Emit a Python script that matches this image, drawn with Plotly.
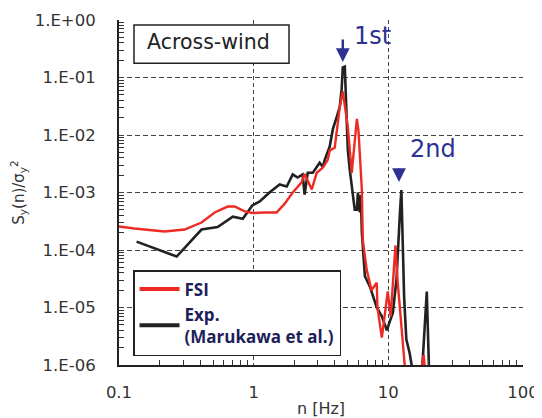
import plotly.graph_objects as go
import numpy as np

# ---- data ----
exp_x = [0.135, 0.268, 0.41, 0.54, 0.70, 0.83, 0.98, 1.11, 1.31, 1.56, 1.76, 1.95, 2.12, 2.31, 2.39,
         2.52, 2.75, 3.09, 3.26, 3.37, 3.67, 3.87, 4.15, 4.36, 4.5, 4.59, 4.75, 4.83, 4.9, 5.0, 5.17,
         5.35, 5.45, 5.63, 5.84, 5.94, 6.14, 6.25, 6.36, 6.7, 7.3, 8.2, 8.95, 9.75, 10.2, 10.8, 11.5,
         11.8, 12.2, 12.5, 12.8, 13.1, 13.6, 14.4, 14.9, 15.5, 17.3, 18.0, 19.3, 20.0, 20.6]
exp_y = [1.4e-4, 7.7e-5, 2.27e-4, 2.5e-4, 3.8e-4, 3.5e-4, 6.0e-4, 7e-4, 1e-3, 1.38e-3, 1.27e-3, 2.06e-3,
         1.82e-3, 2.06e-3, 9.2e-4, 2.2e-3, 2.2e-3, 3.3e-3, 2.8e-3, 3.7e-3, 6.3e-3, 1.25e-2, 2.1e-2, 3.1e-2,
         6.2e-2, 0.15, 0.155, 4.7e-2, 1.6e-2, 5.6e-3, 2.5e-3, 1.27e-3, 8.5e-4, 5e-4, 5e-4, 1e-3, 4.5e-4,
         9e-4, 2e-4, 3.5e-5, 2.3e-5, 1e-5, 7e-6, 4e-6, 5.5e-6, 8e-6, 3.1e-5, 1.15e-4, 4.5e-4, 1.1e-3,
         1.15e-4, 1.5e-5, 2.8e-6, 1.6e-6, 1e-6, 5e-7, 5e-7, 1.2e-6, 1.9e-5, 1e-6, 5e-7]

fsi_x = [0.1, 0.13, 0.218, 0.307, 0.41, 0.513, 0.641, 0.722, 0.857, 0.98, 1.2, 1.48, 1.7, 1.95, 2.27,
         2.39, 2.7, 2.94, 3.26, 3.55, 3.67, 4.0, 4.36, 4.59, 5.0, 5.35, 5.84, 6.0, 6.36, 6.46, 6.9, 7.5,
         8.2, 8.3, 8.95, 9.4, 9.9, 10.4, 11.3, 11.7, 12.6, 13.4, 17.3, 18.3, 18.8]
fsi_y = [2.57e-4, 2.37e-4, 2.1e-4, 2.27e-4, 3.0e-4, 4.5e-4, 5.7e-4, 5.7e-4, 4.7e-4, 4.4e-4, 4.5e-4,
         4.5e-4, 6.4e-4, 1.0e-3, 1.5e-3, 2.1e-3, 1.13e-3, 2.2e-3, 2.7e-3, 3.7e-3, 5.4e-3, 6e-3, 3.1e-2,
         5.7e-2, 1.4e-2, 2.2e-3, 1.9e-2, 1.2e-2, 1.1e-3, 1.5e-4, 4.6e-5, 2e-5, 2.7e-5, 1e-5, 3e-6, 7e-6,
         1.9e-5, 7e-6, 1.2e-4, 3e-5, 4e-6, 7e-7, 7e-7, 1.5e-6, 7e-7]

x_tickvals = [0.1, 1, 10, 100]
x_ticktext = ["0.1", "1", "10", "100"]
y_tickvals = [1e0, 1e-1, 1e-2, 1e-3, 1e-4, 1e-5, 1e-6]
y_ticktext = ["1.E+00", "1.E-01", "1.E-02", "1.E-03", "1.E-04", "1.E-05", "1.E-06"]

x_minor = [m * 10.0 ** e for e in range(-1, 2) for m in range(2, 10)]
y_minor = [m * 10.0 ** e for e in range(-6, 0) for m in range(2, 10)]

NAVY = "#2e3192"
LEGTXT = "#1e1e5a"
RED = "#ee2a24"
BLACK = "#222222"
TXT = "#333333"

fig = go.Figure()
fig.add_trace(go.Scatter(x=exp_x, y=exp_y, mode="lines", showlegend=False,
                         line=dict(color=BLACK, width=2.6)))
fig.add_trace(go.Scatter(x=fsi_x, y=fsi_y, mode="lines", showlegend=False,
                         line=dict(color=RED, width=2.4)))
# legend entries (thicker sample lines, as in the reference)
fig.add_trace(go.Scatter(x=[None], y=[None], mode="lines", name="FSI",
                         line=dict(color=RED, width=4), legendrank=1))
fig.add_trace(go.Scatter(x=[None], y=[None], mode="lines", name="Exp.<br>(Marukawa et al.)",
                         line=dict(color=BLACK, width=4), legendrank=2))

# page body has an 8px margin, so the figure is 534x410 inside the 542x418 window
fig.update_layout(
    width=534, height=410,
    margin=dict(l=111, r=19, t=12, b=53),
    paper_bgcolor="white", plot_bgcolor="white",
    font=dict(family="DejaVu Sans", color=TXT),
    showlegend=True,
    legend=dict(x=0.0347, y=0.026, xanchor="left", yanchor="bottom",
                bgcolor="white", bordercolor=BLACK, borderwidth=1.5,
                font=dict(family="Open Sans", size=17, color=LEGTXT, weight="bold"),
                itemwidth=40, tracegroupgap=0),
)

TRANSP = "rgba(0,0,0,0)"
fig.update_xaxes(type="log", range=[-1, 2], tickmode="array", tickvals=x_tickvals, ticktext=x_ticktext,
                 tickfont=dict(size=16.5, color=TXT), ticks="outside", ticklen=11, tickcolor=TRANSP,
                 showline=True, linecolor=BLACK, linewidth=2, mirror=False,
                 showgrid=True, gridcolor="#444444", gridwidth=1.2, griddash="4px,3px",
                 minor=dict(tickvals=x_minor, ticks="inside", ticklen=5, tickcolor=TXT, showgrid=False),
                 zeroline=False, automargin=False,
                 title=dict(text="n [Hz]", font=dict(size=16, color=TXT), standoff=4))
fig.update_yaxes(type="log", range=[-6, 0], tickmode="array", tickvals=y_tickvals, ticktext=y_ticktext,
                 tickfont=dict(size=16.5, color=TXT), ticks="outside", ticklen=18, tickcolor=TRANSP,
                 showline=True, linecolor=BLACK, linewidth=2, mirror=False,
                 showgrid=True, gridcolor="#444444", gridwidth=1.2, griddash="5px,3px",
                 minor=dict(tickvals=y_minor, ticks="inside", ticklen=5, tickcolor=TXT, showgrid=False),
                 zeroline=False, automargin=False,
                 title=dict(text="S<sub>y</sub>(n)/σ<sub>y</sub><sup>2</sup>", font=dict(size=15, color=TXT),
                            standoff=12))

# Across-wind label box
fig.add_shape(type="rect", xref="paper", yref="paper", x0=0.0371, x1=0.4208, y0=0.875, y1=0.9855,
              line=dict(color=BLACK, width=1.5), fillcolor="white", layer="above")
fig.add_annotation(xref="paper", yref="paper", x=0.222, y=0.936, xanchor="center", yanchor="middle",
                   text="Across-wind", showarrow=False,
                   font=dict(family="DejaVu Sans", size=20.5, color=BLACK))

# mode arrows and labels
fig.add_annotation(x=np.log10(4.59), y=-0.730, ax=0, ay=-24, text="", showarrow=True,
                   arrowhead=2, arrowsize=1.1, arrowwidth=2.5, arrowcolor=NAVY)
fig.add_annotation(x=np.log10(12.0), y=-2.817, ax=0, ay=-15, text="", showarrow=True,
                   arrowhead=2, arrowsize=1.1, arrowwidth=2.5, arrowcolor=NAVY)
fig.add_annotation(x=0.879, y=-0.278, xanchor="center", yanchor="middle", text="1st", showarrow=False,
                   font=dict(family="DejaVu Sans", size=24, color=NAVY))
fig.add_annotation(x=1.332, y=-2.243, xanchor="center", yanchor="middle", text="2nd", showarrow=False,
                   font=dict(family="DejaVu Sans", size=24, color=NAVY))

fig.write_html("out.html")
